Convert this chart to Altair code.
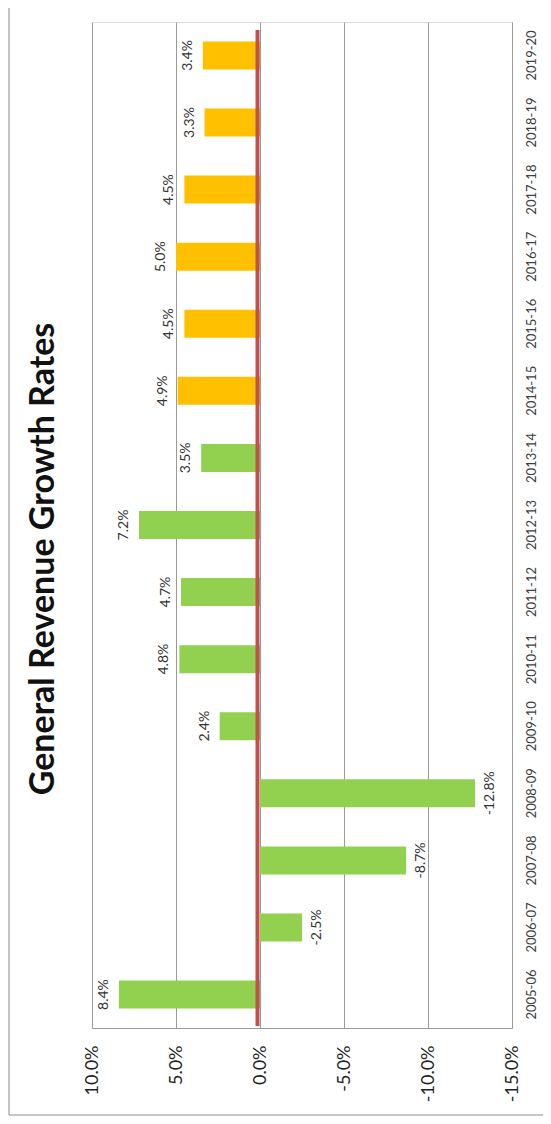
import altair as alt
import pandas as pd

years = ["2005-06", "2006-07", "2007-08", "2008-09", "2009-10", "2010-11", "2011-12",
         "2012-13", "2013-14", "2014-15", "2015-16", "2016-17", "2017-18", "2018-19", "2019-20"]
growth_pct = [8.4, -2.5, -8.7, -12.8, 2.4, 4.8, 4.7, 7.2, 3.5, 4.9, 4.5, 5.0, 4.5, 3.3, 3.4]
kinds = ["Actual"] * 9 + ["Projected"] * 6
axis_ticks = [0.10, 0.05, 0.0, -0.05, -0.10, -0.15]
title_text = "General Revenue Growth Rates"

df = pd.DataFrame({
    "year": years,
    "value": [g / 100 for g in growth_pct],
    "kind": kinds,
})
one = pd.DataFrame({"t": [title_text]})

FONT = "Lato"
order = list(reversed(years))

xscale = alt.Scale(domain=[-0.15, 0.10], reverse=True, nice=False)
yenc = alt.Y("year:N", sort=order, title=None,
             scale=alt.Scale(paddingInner=0.583, paddingOuter=0.29),
             axis=alt.Axis(orient="right", labelAngle=270, labelAlign="center",
                           labelBaseline="top", labelPadding=13, labelFontSize=13,
                           labelFont=FONT, labelColor="#404040", ticks=False,
                           domain=False, grid=False))
xenc = alt.X("value:Q", scale=xscale, title=None,
             axis=alt.Axis(values=axis_ticks,
                           labelExpr="replace(format(datum.value, '.1%'), '\u2212', '-')",
                           labelAngle=270,
                           labelFontSize=18, labelFont=FONT, labelColor="#222222",
                           labelPadding=17, ticks=False, grid=True,
                           gridColor="#9a9a9a", gridWidth=1,
                           domainColor="#9a9a9a", domainWidth=1))

base = alt.Chart(df).transform_calculate(
    lbl="replace(format(datum.value, '.1%'), '\u2212', '-')"
)

bars = base.mark_bar().encode(
    x=xenc,
    y=yenc,
    color=alt.Color("kind:N", legend=None,
                    scale=alt.Scale(domain=["Actual", "Projected"],
                                    range=["#92D050", "#FFC000"])),
)

pos_labels = base.transform_filter(alt.datum.value >= 0).mark_text(
    angle=270, align="center", baseline="bottom", dy=-8,
    fontSize=14, font=FONT, color="#333333"
).encode(x=alt.X("value:Q", scale=xscale), y=alt.Y("year:N", sort=order),
         text="lbl:N")

neg_labels = base.transform_filter(alt.datum.value < 0).mark_text(
    angle=270, align="center", baseline="top", dy=8,
    fontSize=14, font=FONT, color="#333333"
).encode(x=alt.X("value:Q", scale=xscale), y=alt.Y("year:N", sort=order),
         text="lbl:N")

zero_df = pd.DataFrame({"z": [0.0]})
zero_line = alt.Chart(zero_df).mark_rule(color="#C0504D", strokeWidth=4, xOffset=-2.5).encode(
    x=alt.X("z:Q", scale=xscale),
    y=alt.value(8), y2=alt.value(1004),
)

title = alt.Chart(one).mark_text(
    angle=270, align="center", baseline="middle", fontSize=34,
    fontWeight="bold", font=FONT, color="#111111"
).encode(x=alt.value(-48), y=alt.value(537), text="t:N")

left_border = alt.Chart(one).mark_rule(color="#8a8a8a", strokeWidth=1).encode(
    x=alt.value(-83), y=alt.value(-14), y2=alt.value(1093))
bottom_border = alt.Chart(one).mark_rule(color="#8a8a8a", strokeWidth=1).encode(
    x=alt.value(-83), x2=alt.value(451), y=alt.value(1093))

chart = alt.layer(bars, zero_line, pos_labels, neg_labels, title, left_border, bottom_border).properties(
    width=420, height=1006,
    autosize=alt.AutoSizeParams(type="none"),
    padding={"left": 84, "top": 14, "right": 31, "bottom": 88},
).configure_view(stroke=None).configure(background="white")

chart.save("out.html", embed_options={"renderer": "svg", "actions": False})
